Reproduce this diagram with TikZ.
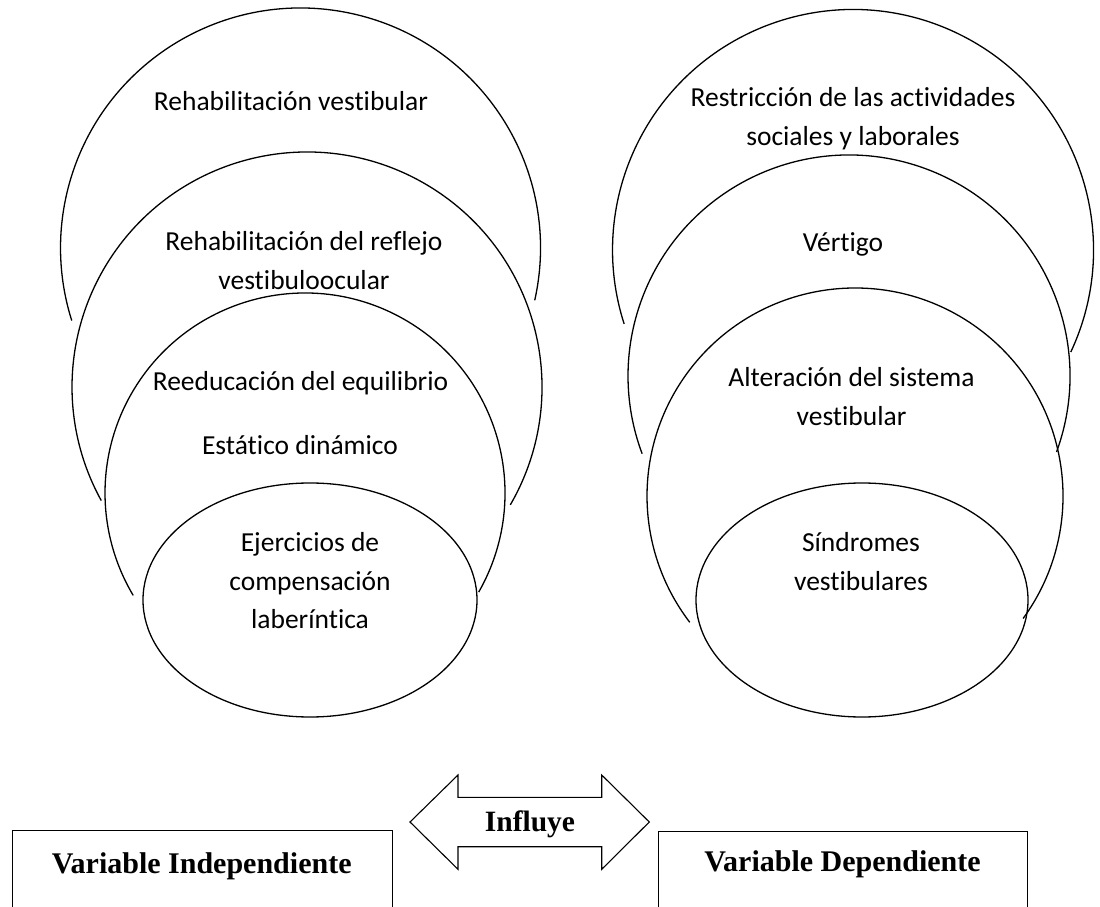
\documentclass[tikz,border=0pt]{standalone}
\usepackage{fontspec}
\setmainfont{Carlito}[Ligatures={NoCommon}]
\newfontfamily\tnr{Liberation Serif}
\newcommand\mylines[1]{\begin{tabular}[t]{@{}c@{}}#1\end{tabular}}
\begin{document}
\begin{tikzpicture}[x=1pt,y=1pt,
  ring/.style={line width=1.3pt},
  lbl/.style={anchor=base,inner sep=0pt,font=\fontsize{27.5}{38.5}\selectfont},
  boxline/.style={line width=1.1pt},
  blbl/.style={anchor=base,inner sep=0pt,font=\tnr\bfseries\fontsize{30}{36}\selectfont}]
\useasboundingbox[fill=white] (0,0) rectangle (1100,906);
% left nested arcs
\draw[ring] (300.5,658) ++(-12.6:240) arc[start angle=-12.6,end angle=197.6,radius=240];
\draw[ring] (307,519) ++(-30.1:235) arc[start angle=-30.1,end angle=208.9,radius=235];
\draw[ring] (305,413) ++(-29.7:200) arc[start angle=-29.7,end angle=210.8,radius=200];
\draw[ring] (310,306) ellipse[x radius=167,y radius=117];
% right nested arcs
\draw[ring] (853,656) ++(-25.1:240.5) arc[start angle=-25.1,end angle=197.9,radius=240.5];
\draw[ring] (849,530) ++(-20.1:221) arc[start angle=-20.1,end angle=200.6,radius=221];
\draw[ring] (855,410) ++(-36.1:208) arc[start angle=-36.1,end angle=217.4,radius=208];
\draw[ring] (862,306) ellipse[x radius=166,y radius=117];
% left texts
\node[lbl] (l1) at (291,795) {Rehabilitación vestibular};
\node[lbl] (l2) at (304,655.3) {\mylines{Rehabilitación del reflejo\\vestibuloocular}};
\node[lbl] (l3) at (300.5,515.3) {Reeducación del equilibrio};
\node[lbl] (l4) at (300,451) {Estático dinámico};
\node[lbl] (l5) at (310,354.3) {\mylines{Ejercicios de\\compensación\\laberíntica}};
% right texts
\node[lbl] (r1) at (853,799.3) {\mylines{Restricción de las actividades\\sociales y laborales}};
\node[lbl] (r2) at (843,654.3) {Vértigo};
\node[lbl] (r3) at (851.5,519.3) {\mylines{Alteración del sistema\\vestibular}};
\node[lbl] (r4) at (861,354.3) {\mylines{Síndromes\\vestibulares}};
% bottom boxes (open at the bottom edge)
\draw[boxline] (12.3,-3) -- (12.3,75.3) -- (392.3,75.3) -- (392.3,-3);
\draw[boxline] (658.3,-3) -- (658.3,74.3) -- (1027.3,74.3) -- (1027.3,-3);
\node[blbl] (vi) at (201.7,32.7) {Variable Independiente};
\node[blbl] (vd) at (842.5,35) {Variable Dependiente};
% double arrow
\draw[boxline,line join=miter] (410,84) -- (458,131) -- (458,108.7) -- (601.7,108.7) -- (601.7,131)
  -- (649.3,84) -- (601.7,36.7) -- (601.7,59.3) -- (458,59.3) -- (458,36.7) -- cycle;
\node[blbl,font=\tnr\bfseries\fontsize{29.5}{36}\selectfont] (inf) at (530,74.3) {Influye};
\end{tikzpicture}
\end{document}
